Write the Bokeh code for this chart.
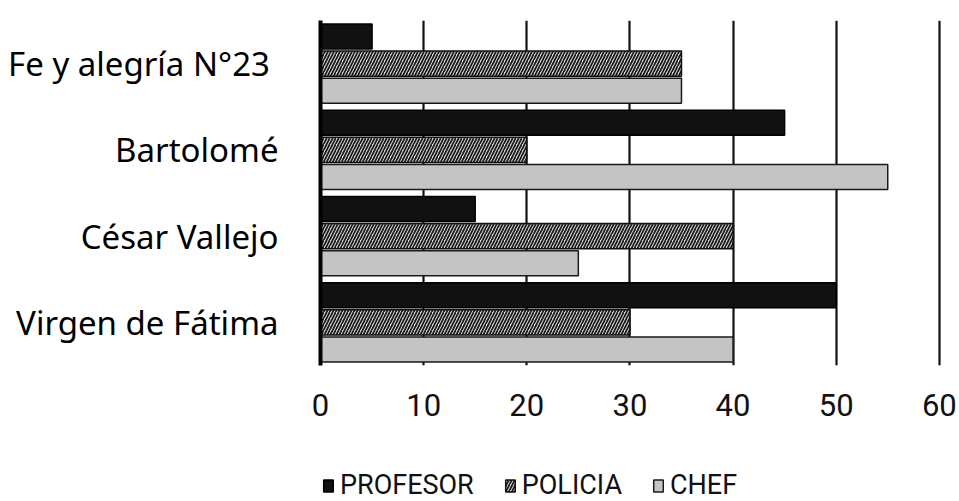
from bokeh.plotting import figure
from bokeh.models import FactorRange, Range1d, Legend, LegendItem, FixedTicker, ColumnDataSource
from bokeh.layouts import column
from bokeh.transform import dodge
from bokeh.embed import file_html
from bokeh.resources import INLINE

categories = ["Fe y alegría  N°23", "Bartolomé", "César Vallejo", "Virgen de Fátima"]
series = ["PROFESOR", "POLICIA", "CHEF"]
profesor = [5, 45, 15, 50]
policia = [35, 20, 40, 30]
chef = [35, 55, 25, 40]
x_ticks = [0, 10, 20, 30, 40, 50, 60]

NARROW = "Liberation Sans Narrow, Arial Narrow, Roboto"

styles = [
    dict(fill_color="#111111", line_color="#000000", line_width=1.5),
    dict(fill_color="#d8d8d8", line_color="#111111", line_width=1.5,
         hatch_pattern="/", hatch_color="#1a1a1a", hatch_scale=6, hatch_weight=1.7),
    dict(fill_color="#c4c4c4", line_color="#1a1a1a", line_width=1.5),
]

src = ColumnDataSource(dict(cat=categories, PROFESOR=profesor, POLICIA=policia, CHEF=chef))

p = figure(frame_width=625, frame_height=345, output_backend="svg", toolbar_location=None,
           y_range=FactorRange(*reversed(categories), range_padding=0.0),
           x_range=Range1d(0, 60.6),
           min_border_left=320, min_border_right=14, min_border_top=20, min_border_bottom=75)
p.outline_line_color = None
p.background_fill_color = "white"
p.border_fill_color = "white"

bar_h = 0.29
offsets = [0.315, 0.0, -0.315]
for s, off, st in zip(series, offsets, styles):
    p.hbar(y=dodge("cat", off, range=p.y_range), right=s, height=bar_h, source=src, **st)

# grid
p.ygrid.grid_line_color = None
p.xgrid.ticker = FixedTicker(ticks=x_ticks)
p.xgrid.grid_line_color = "#111111"
p.xgrid.grid_line_width = 2.2
p.xgrid.level = "underlay"

# x axis
p.xaxis.ticker = FixedTicker(ticks=x_ticks)
p.xaxis.axis_line_color = None
p.xaxis.major_tick_line_color = None
p.xaxis.minor_tick_line_color = None
p.xaxis.major_label_standoff = 22
p.xaxis.major_label_text_font = NARROW
p.xaxis.major_label_text_font_size = "31px"
p.xaxis.major_label_text_color = "#111111"

# y axis
p.yaxis.axis_line_color = "#000000"
p.yaxis.axis_line_width = 4
p.yaxis.major_tick_line_color = None
p.yaxis.minor_tick_line_color = None
p.yaxis.major_label_standoff = 36
p.yaxis.major_label_text_font = "Noto Sans"
p.yaxis.major_label_text_font_size = "33px"
p.yaxis.major_label_text_color = "#000000"

# legend strip below the chart: hidden renderers only supply the legend swatches
p2 = figure(width=959, height=61, output_backend="svg", toolbar_location=None,
            x_range=Range1d(0, 60.6), y_range=FactorRange(*reversed(categories)),
            x_axis_location=None, y_axis_location=None, min_border=0)
p2.outline_line_color = None
p2.grid.grid_line_color = None
p2.background_fill_color = "white"
p2.border_fill_color = "white"

items = []
for s, st in zip(series, styles):
    r = p2.hbar(y="cat", right=s, height=0.3, source=src, visible=False, **st)
    items.append(LegendItem(label=s, renderers=[r]))

legend = Legend(items=items, orientation="horizontal", location=(2, 0))
legend.border_line_color = None
legend.background_fill_alpha = 0
legend.inactive_fill_alpha = 0
legend.label_text_font = NARROW
legend.label_text_font_size = "27px"
legend.label_text_color = "#111111"
legend.glyph_width = 12
legend.glyph_height = 15
legend.label_standoff = 6
legend.spacing = 30
legend.margin = 0
legend.padding = 0
p2.add_layout(legend)

open("out.html", "w").write(file_html(column(p, p2, spacing=0), INLINE))
